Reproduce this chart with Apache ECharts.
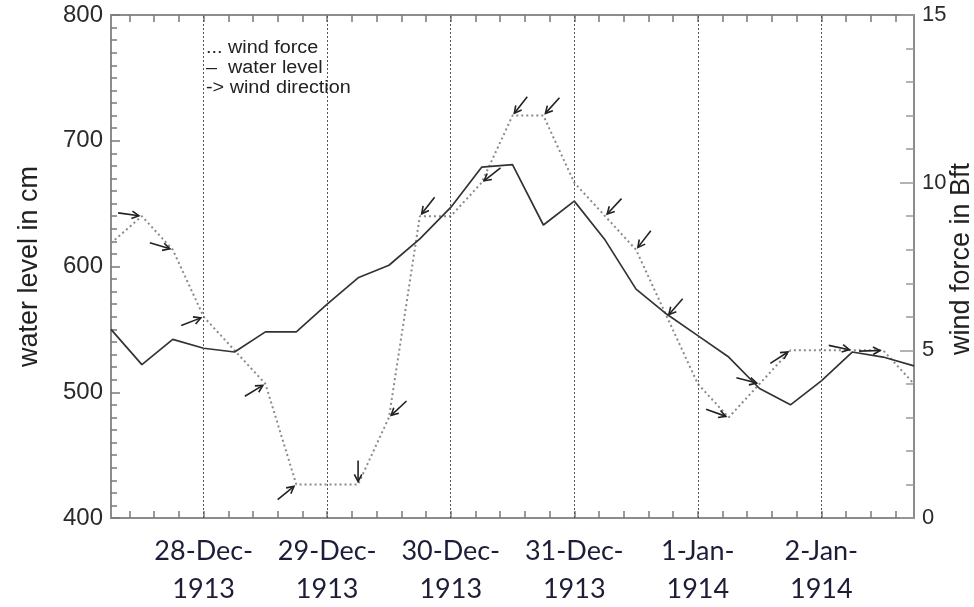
<!DOCTYPE html>
<html>
<head>
<meta charset="utf-8">
<script src="https://cdn.jsdelivr.net/npm/echarts@6/dist/echarts.min.js"></script>
<style>
html,body{margin:0;padding:0;background:#fff;}
#chart{width:974px;height:607px;}
</style>
</head>
<body>
<div id="chart"></div>
<script>
// Time of each observation, in days after 27-Dec-1913 00:00 (6-hourly)
var times = [0.25,0.5,0.75,1,1.25,1.5,1.75,2,2.25,2.5,2.75,3,3.25,3.5,3.75,4,4.25,4.5,4.75,5,5.25,5.5,5.75,6,6.25,6.5,6.75];
// Water level in cm
var waterLevel = [550,522,542,535,532,548,548,570,591,601,622,647,679,681,633,652,621,582,562,545,528,503,490,509,532,528,521];
// Wind force in Bft
var windForce = [8.2,9,8,6,5,4,1,1,1,3,9,9,10,12,12,10,9,8,6,4,3,4,5,5,5,5,4];
// Wind direction: heading of the drawn arrow in degrees (0 = east, 90 = north); null = no arrow
var windDir = [null,-8,-17,21,null,31,39,null,-90,-137,-128,null,-142,-128,-132,null,-133,-128,-131,null,-20,-15,33,null,-12,2,null];
// Day boundaries and their labels
var dayValues = [1,2,3,4,5,6];
var dayLabels = ['28-Dec-\n1913','29-Dec-\n1913','30-Dec-\n1913','31-Dec-\n1913','1-Jan-\n1914','2-Jan-\n1914'];
var legendLines = ['... wind force', '\u2013  water level', '-> wind direction'];
var leftTitle = 'water level in cm';
var rightTitle = 'wind force in Bft';

var xMin = 0.25, xMax = 6.75;
var tickValues = [];
for (var k = 1; k * 0.2 < xMax; k++) { var v = Math.round(k * 0.2 * 1000) / 1000; if (v > xMin) tickValues.push(v); }

var waterData = times.map(function (t, i) { return [t, waterLevel[i]]; });
var windData = times.map(function (t, i) { return [t, windForce[i]]; });
var arrowData = [];
times.forEach(function (t, i) { if (windDir[i] !== null) arrowData.push([t, windForce[i], windDir[i]]); });

var frameColor = '#8c8c8c';
var tickColor = '#7a7a7a';

var chart = echarts.init(document.getElementById('chart'), null, {renderer: 'canvas'});

function xAxisBase(pos, showLabel) {
  return {
    type: 'value', min: xMin, max: xMax, position: pos,
    axisLine: {show: true, onZero: false, lineStyle: {color: frameColor, width: 2}},
    axisTick: {show: true, inside: true, length: 7, customValues: tickValues, lineStyle: {color: tickColor, width: 1.5}},
    axisLabel: showLabel ? {
      show: true, customValues: dayValues,
      formatter: function (v) { var i = dayValues.indexOf(Math.round(v)); return i >= 0 ? dayLabels[i] : ''; },
      fontFamily: 'Lato', fontSize: 27, color: '#1d1d38', lineHeight: 38, margin: 14
    } : {show: false},
    splitLine: {show: false}
  };
}

var graphics = legendLines.map(function (s, i) {
  return {type: 'text', x: 206, y: 39 + i * 20, scaleX: 1.1,
    style: {text: s, fontFamily: 'Liberation Sans', fontSize: 18, fill: '#222'}};
});
graphics.push({type: 'text', x: 962, y: 259, rotation: Math.PI / 2,
  style: {text: rightTitle, fontFamily: 'Liberation Sans', fontSize: 27, fill: '#222', align: 'center', verticalAlign: 'middle'}});

var option = {
  backgroundColor: '#ffffff',
  animation: false,
  grid: {left: 111, right: 60, top: 15, bottom: 89, containLabel: false, outerBoundsMode: 'none'},
  xAxis: [xAxisBase('bottom', true), xAxisBase('top', false)],
  yAxis: [
    {
      type: 'value', min: 400, max: 800, interval: 100, position: 'left',
      name: leftTitle, nameLocation: 'middle', nameRotate: 90, nameGap: 68,
      nameTextStyle: {fontFamily: 'Liberation Sans', fontSize: 27, color: '#222'},
      axisLine: {show: true, lineStyle: {color: frameColor, width: 2}},
      axisTick: {show: true, inside: true, length: 9, lineStyle: {color: tickColor, width: 1.5}},
      minorTick: {show: true, splitNumber: 10, length: 6, lineStyle: {color: tickColor, width: 1.5}},
      axisLabel: {fontFamily: 'Liberation Sans', fontSize: 24, color: '#2a2a2a', margin: 8},
      splitLine: {show: false}
    },
    {
      type: 'value', min: 0, max: 15, interval: 5, position: 'right',
      axisLine: {show: true, lineStyle: {color: frameColor, width: 2}},
      axisTick: {show: true, inside: true, length: 14, lineStyle: {color: '#9a9a9a', width: 1.5}},
      minorTick: {show: true, splitNumber: 5, length: 8, lineStyle: {color: '#9a9a9a', width: 1.5}},
      axisLabel: {fontFamily: 'Liberation Sans', fontSize: 22, color: '#2a2a2a', margin: 8},
      splitLine: {show: false}
    }
  ],
  graphic: graphics,
  series: [
    {
      name: 'water level', type: 'line', xAxisIndex: 0, yAxisIndex: 0,
      data: waterData, symbol: 'none', silent: true,
      lineStyle: {color: '#333', width: 1.7},
      markLine: {
        silent: true, symbol: 'none', label: {show: false},
        lineStyle: {color: '#555', width: 1, type: [2, 2]},
        data: dayValues.map(function (d) { return {xAxis: d}; })
      },
      z: 3
    },
    {
      name: 'wind force', type: 'line', xAxisIndex: 0, yAxisIndex: 1,
      data: windData, symbol: 'none', silent: true,
      lineStyle: {color: '#8a8a8a', width: 2, type: [2, 3]},
      z: 2
    },
    {
      name: 'wind direction', type: 'custom', xAxisIndex: 0, yAxisIndex: 1,
      data: arrowData, encode: {x: 0, y: 1}, silent: true, z: 4,
      renderItem: function (params, api) {
        var p = api.coord([api.value(0), api.value(1)]);
        var ang = api.value(2) * Math.PI / 180;
        var ux = Math.cos(ang), uy = -Math.sin(ang);
        var L = 21, off = 3, h = 8, a = 28 * Math.PI / 180;
        var tip = [p[0] - ux * off, p[1] - uy * off];
        var tail = [tip[0] - ux * L, tip[1] - uy * L];
        function rot(vx, vy, t) { return [vx * Math.cos(t) - vy * Math.sin(t), vx * Math.sin(t) + vy * Math.cos(t)]; }
        var b1 = rot(-ux, -uy, a), b2 = rot(-ux, -uy, -a);
        var st = {stroke: '#222', lineWidth: 1.6, fill: null};
        return {
          type: 'group', children: [
            {type: 'line', shape: {x1: tail[0], y1: tail[1], x2: tip[0], y2: tip[1]}, style: st},
            {type: 'polyline', shape: {points: [[tip[0] + b1[0] * h, tip[1] + b1[1] * h], tip, [tip[0] + b2[0] * h, tip[1] + b2[1] * h]]}, style: st}
          ]
        };
      }
    }
  ]
};
chart.setOption(option);
</script>
</body>
</html>
